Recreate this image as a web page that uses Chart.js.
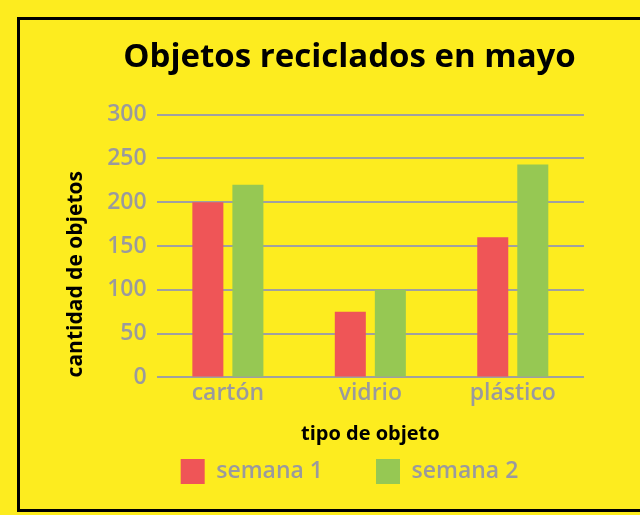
<!DOCTYPE html>
<html>
<head>
<meta charset="utf-8">
<script src="https://cdn.jsdelivr.net/npm/chart.js@4"></script>
<style>
  html, body { margin: 0; padding: 0; background: #FDEC1F; overflow: hidden; }
  #frame {
    position: absolute; left: 17px; top: 17px; width: 660px; height: 495px;
    box-sizing: border-box; border: 3px solid #000;
  }
  #chart { position: absolute; left: 0; top: 0; }
</style>
</head>
<body>
<div id="frame"></div>
<canvas id="chart" width="640" height="515"></canvas>
<script>
// Data
const categories = ['cartón', 'vidrio', 'plástico'];
const semana1 = [200, 75, 160];
const semana2 = [220, 100, 243];
const yTicks = [0, 50, 100, 150, 200, 250, 300];

const gray = '#9a9a9e';
const fontFamily = '"Open Sans", "Noto Sans", sans-serif';

const ctx = document.getElementById('chart').getContext('2d');
new Chart(ctx, {
    type: 'bar',
    data: {
        labels: categories,
        datasets: [
            { label: 'semana 1', data: semana1, backgroundColor: '#EF5557' },
            { label: 'semana 2', data: semana2, backgroundColor: '#96C853' }
        ]
    },
    options: {
        responsive: false,
        animation: false,
        categoryPercentage: 0.562,
        barPercentage: 0.775,
        layout: { padding: { left: 63, right: 4, top: 38, bottom: 21 } },
        plugins: {
            title: {
                display: true,
                text: 'Objetos reciclados en mayo',
                color: '#000',
                font: { family: fontFamily, size: 33, weight: 'bold' },
                padding: { top: 0, bottom: 37 }
            },
            legend: {
                position: 'bottom',
                labels: {
                    color: gray,
                    boxWidth: 24,
                    boxHeight: 25,
                    padding: 53,
                    font: { family: fontFamily, size: 23, weight: '600' }
                }
            },
            tooltip: { enabled: false }
        },
        scales: {
            x: {
                grid: { display: false, drawTicks: false },
                border: { display: false },
                ticks: { color: gray, padding: 2, font: { family: fontFamily, size: 23, weight: '600' } },
                title: {
                    display: true,
                    text: 'tipo de objeto',
                    color: '#000',
                    // negative bottom padding pulls the title into the legend's empty top area
                    padding: { top: 13, bottom: -40 },
                    font: { family: fontFamily, size: 20, weight: 'bold' }
                }
            },
            y: {
                min: 0,
                max: 300,
                afterBuildTicks: (scale) => { scale.ticks = yTicks.map(v => ({ value: v })); },
                grid: { color: '#a0a0a0', lineWidth: 2, drawTicks: false },
                border: { display: false },
                ticks: { color: gray, padding: 10, font: { family: fontFamily, size: 23, weight: '600' } },
                title: {
                    display: true,
                    text: 'cantidad de objetos',
                    color: '#000',
                    align: 'start',
                    padding: { top: 0, bottom: 9 },
                    font: { family: fontFamily, size: 21, weight: 'bold' }
                }
            },
            // empty right axis so title and legend center like the original
            y2: {
                position: 'right',
                grid: { display: false },
                border: { display: false },
                ticks: { display: false },
                afterFit: (scale) => { scale.width = 52; }
            }
        }
    }
});
</script>
</body>
</html>
